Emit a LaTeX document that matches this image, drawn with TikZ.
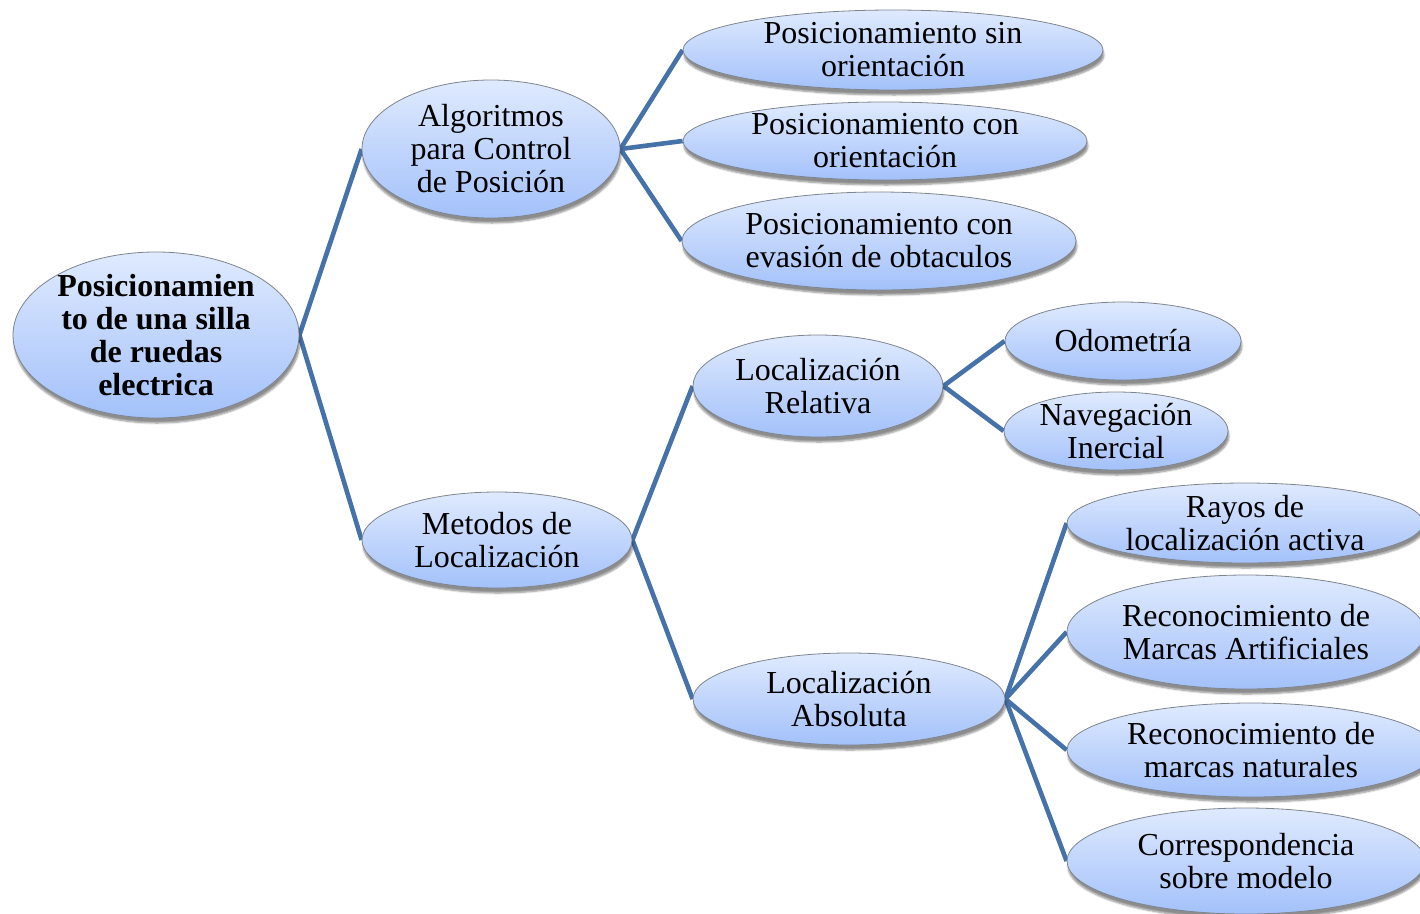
\documentclass[tikz,border=0pt]{standalone}
\usepackage{fontspec}
\setmainfont{Liberation Serif}
\usetikzlibrary{shapes.geometric,backgrounds,shadows.blur}
\definecolor{bubtop}{HTML}{DFEAFE}
\definecolor{bubbot}{HTML}{A3C1FA}
\definecolor{bordergray}{HTML}{7F858E}
\definecolor{linkblue}{HTML}{4672AA}
\newcommand\bubfont{\fontsize{32}{33}\selectfont}
\tikzset{
  bubble/.style={ellipse, draw=bordergray, line width=0.8pt,
    top color=bubtop, bottom color=bubbot,
    inner xsep=-12pt, inner ysep=-22pt, align=center, font=\bubfont,
    blur shadow={shadow xshift=1pt, shadow yshift=-5pt,
      shadow blur steps=6, shadow opacity=45}},
  link/.style={draw=linkblue, line width=4.6pt}
}
\begin{document}
\begin{tikzpicture}[x=1pt, y=-1pt]
\useasboundingbox (0,0) rectangle (1420,913);

% root
\node[bubble, font=\bubfont\bfseries, minimum width=286pt, minimum height=166pt]
  (root) at (156,335) {Posicionamien\\to de una silla\\de ruedas\\electrica};

% first level
\node[bubble, minimum width=258pt, minimum height=138pt]
  (alg) at (491,149) {Algoritmos\\para Control\\de Posición};
\node[bubble, minimum width=270pt, minimum height=96pt]
  (met) at (497,540) {Metodos de\\Localización};

% positioning branches
\node[bubble, minimum width=420pt, minimum height=80pt]
  (sin) at (893,50) {Posicionamiento sin\\orientación};
\node[bubble, minimum width=404pt, minimum height=78pt]
  (con) at (885,141) {Posicionamiento con\\orientación};
\node[bubble, minimum width=394pt, minimum height=98pt]
  (eva) at (879,241) {Posicionamiento con\\evasión de obtaculos};

% localization branches
\node[bubble, minimum width=250pt, minimum height=102pt]
  (rel) at (818,386) {Localización\\Relativa};
\node[bubble, minimum width=312pt, minimum height=92pt]
  (abs) at (849,699) {Localización\\Absoluta};

% relative localization
\node[bubble, minimum width=236pt, minimum height=78pt]
  (odo) at (1123,341) {Odometría};
\node[bubble, minimum width=224pt, minimum height=78pt]
  (ine) at (1116,431) {Navegación\\Inercial};

% absolute localization
\node[bubble, minimum width=356pt, minimum height=80pt]
  (ray) at (1245,523) {Rayos de\\localización activa};
\node[bubble, minimum width=358pt, minimum height=114pt]
  (art) at (1246,632) {Reconocimiento de\\Marcas Artificiales};
\node[bubble, minimum width=368pt, minimum height=94pt]
  (nat) at (1251,750) {Reconocimiento de\\marcas naturales};
\node[bubble, minimum width=358pt, minimum height=106pt]
  (mod) at (1246,861) {Correspondencia\\sobre modelo};

\begin{scope}[on background layer]
  \draw[link] (root.east) -- (alg.west);
  \draw[link] (root.east) -- (met.west);
  \draw[link] (alg.east) -- (sin.west);
  \draw[link] (alg.east) -- (con.west);
  \draw[link] (alg.east) -- (eva.west);
  \draw[link] (met.east) -- (rel.west);
  \draw[link] (met.east) -- (abs.west);
  \draw[link] (rel.east) -- (odo.west);
  \draw[link] (rel.east) -- (ine.west);
  \draw[link] (abs.east) -- (ray.west);
  \draw[link] (abs.east) -- (art.west);
  \draw[link] (abs.east) -- (nat.west);
  \draw[link] (abs.east) -- (mod.west);
\end{scope}
\end{tikzpicture}
\end{document}
